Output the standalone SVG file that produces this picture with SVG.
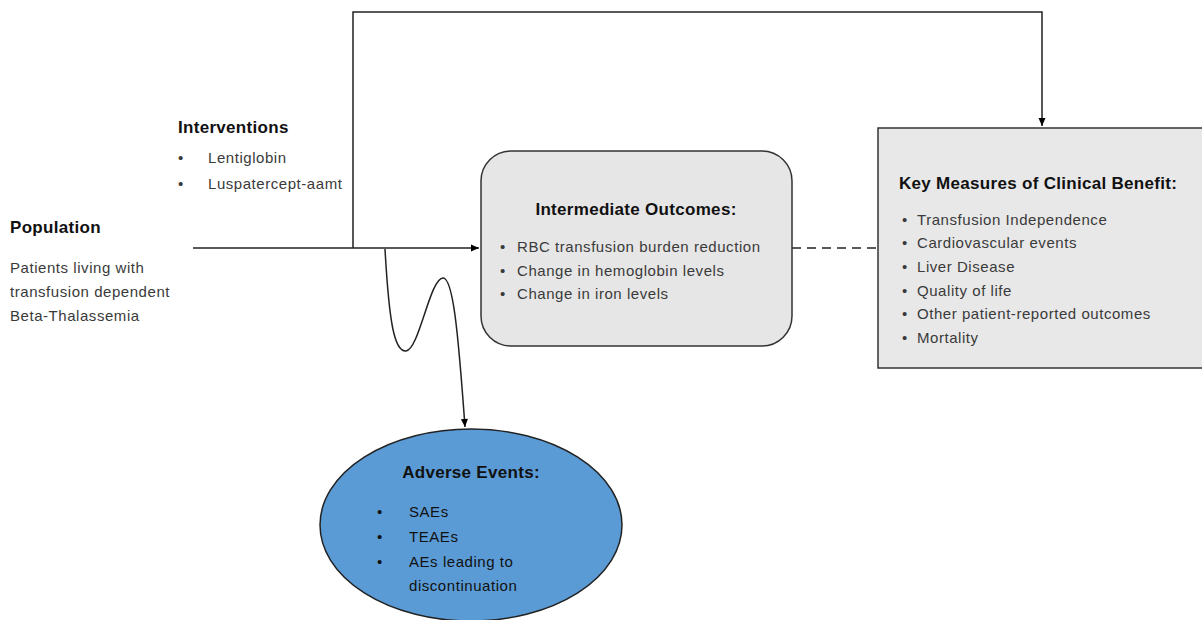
<svg xmlns="http://www.w3.org/2000/svg" width="1202" height="620" viewBox="0 0 1202 620">
<defs>
<marker id="arr" markerWidth="10" markerHeight="10" refX="9" refY="5" orient="auto" markerUnits="userSpaceOnUse">
<path d="M1,1.5 L9,5 L1,8.5 Z" fill="#000"/>
</marker>
<style>
text{font-family:"Liberation Sans",Arial,sans-serif;}
.h{font-weight:bold;font-size:17px;letter-spacing:0.3px;fill:#111;}
.t{font-size:15px;letter-spacing:0.55px;fill:#3a3a3a;}
.d{fill:#111;}
.ln{fill:none;stroke:#222;stroke-width:1.5;}
</style>
</defs>
<rect width="1202" height="620" fill="#fff"/>
<g id="connectors">
<path class="ln" d="M193,248 L479,248" marker-end="url(#arr)"/>
<path class="ln" stroke="#555" d="M353,248 L353,12 L1042,12 L1042,126" marker-end="url(#arr)"/>
<path class="ln" stroke-dasharray="9,6" d="M792,248 L878,248"/>
<path class="ln" d="M385,249 C389,320 394,352 406,351 C419,350 430,278 443,278 C453,278 458,330 465,427" marker-end="url(#arr)"/>
</g>
<g id="population">
<text class="h" x="10" y="233">Population</text>
<text class="t" x="10" y="273">Patients living with</text>
<text class="t" x="10" y="297">transfusion dependent</text>
<text class="t" x="10" y="321">Beta-Thalassemia</text>
</g>
<g id="interventions">
<text class="h" x="178" y="133">Interventions</text>
<text class="t" x="178" y="163">•</text><text class="t" x="208" y="163">Lentiglobin</text>
<text class="t" x="178" y="189">•</text><text class="t" x="208" y="189">Luspatercept-aamt</text>
</g>
<g id="intermediate">
<rect x="481" y="151" width="311" height="195" rx="30" fill="#e6e6e6" stroke="#333" stroke-width="1.5"/>
<text class="h" x="636" y="215" text-anchor="middle">Intermediate Outcomes:</text>
<text class="t" x="500" y="252">•</text><text class="t" x="517" y="252">RBC transfusion burden reduction</text>
<text class="t" x="500" y="276">•</text><text class="t" x="517" y="276">Change in hemoglobin levels</text>
<text class="t" x="500" y="299">•</text><text class="t" x="517" y="299">Change in iron levels</text>
</g>
<g id="key-measures">
<rect x="878" y="128" width="330" height="240" fill="#e8e8e8" stroke="#333" stroke-width="1.5"/>
<text class="h" x="899" y="189">Key Measures of Clinical Benefit:</text>
<text class="t" x="902" y="225">•</text><text class="t" x="917" y="225">Transfusion Independence</text>
<text class="t" x="902" y="248">•</text><text class="t" x="917" y="248">Cardiovascular events</text>
<text class="t" x="902" y="272">•</text><text class="t" x="917" y="272">Liver Disease</text>
<text class="t" x="902" y="296">•</text><text class="t" x="917" y="296">Quality of life</text>
<text class="t" x="902" y="319">•</text><text class="t" x="917" y="319">Other patient-reported outcomes</text>
<text class="t" x="902" y="343">•</text><text class="t" x="917" y="343">Mortality</text>
</g>
<g id="adverse-events">
<ellipse cx="471" cy="525" rx="151" ry="96" fill="#5b9bd5" stroke="#222" stroke-width="1.5"/>
<text class="h" x="471" y="478" text-anchor="middle">Adverse Events:</text>
<text class="t d" x="377" y="517">•</text><text class="t d" x="409" y="517">SAEs</text>
<text class="t d" x="377" y="542">•</text><text class="t d" x="409" y="542">TEAEs</text>
<text class="t d" x="377" y="567">•</text><text class="t d" x="409" y="567">AEs leading to</text>
<text class="t d" x="409" y="591">discontinuation</text>
</g>
</svg>
